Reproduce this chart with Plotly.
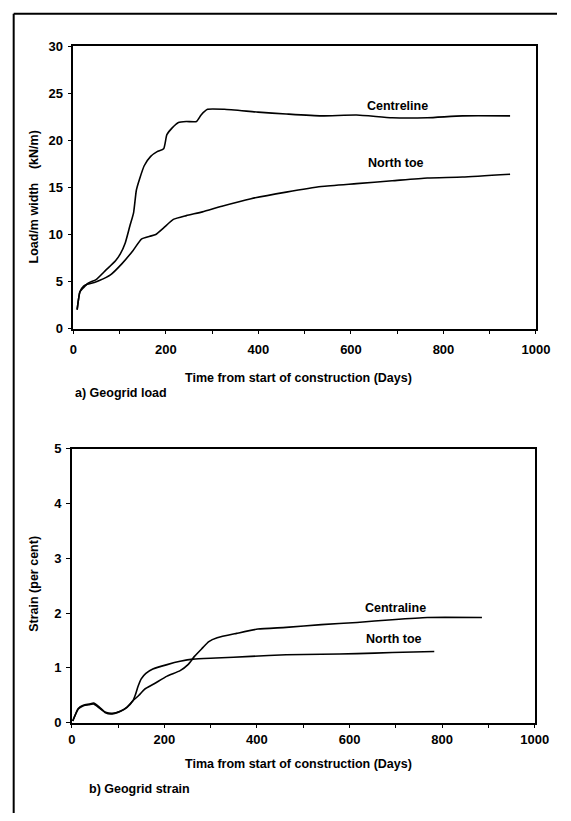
import plotly.graph_objects as go

# ---- data: a) Geogrid load (kN/m) ----
load_centre_days = [8, 14, 21, 31, 49, 70, 91, 101, 112, 122, 130, 136, 143, 153, 167, 181, 195, 202,
                    213, 227, 244, 266, 276, 290, 326, 399, 460, 536, 612, 689, 765, 841, 944]
load_centre_vals = [2.0, 3.9, 4.3, 4.8, 5.2, 6.2, 7.2, 7.9, 9.1, 10.9, 12.3, 14.7, 15.9, 17.3, 18.3, 18.8,
                    19.1, 20.6, 21.3, 21.9, 22.0, 22.0, 22.7, 23.3, 23.3, 23.0, 22.8, 22.6, 22.7, 22.4,
                    22.4, 22.6, 22.6]
load_north_days = [8, 14, 22, 30, 45, 56, 80, 105, 129, 147, 165, 178, 195, 216, 244, 279, 321, 384,
                   460, 536, 612, 689, 765, 841, 944]
load_north_vals = [2.0, 3.9, 4.5, 4.7, 4.9, 5.1, 5.7, 6.9, 8.3, 9.5, 9.8, 10.0, 10.7, 11.6, 12.0, 12.4,
                   13.0, 13.8, 14.5, 15.1, 15.4, 15.7, 16.0, 16.1, 16.4]

# ---- data: b) Geogrid strain (per cent) ----
strain_centre_days = [2, 14, 25, 38, 47, 59, 73, 87, 105, 119, 132, 145, 157, 178, 206, 234, 251, 265,
                      282, 296, 314, 356, 402, 463, 539, 616, 692, 768, 886]
strain_centre_vals = [0.03, 0.25, 0.31, 0.33, 0.34, 0.27, 0.19, 0.17, 0.21, 0.28, 0.40, 0.50, 0.61, 0.71,
                      0.85, 0.95, 1.06, 1.21, 1.36, 1.48, 1.55, 1.63, 1.71, 1.74, 1.79, 1.83, 1.88, 1.92,
                      1.92]
strain_north_days = [2, 14, 25, 38, 47, 59, 73, 87, 105, 119, 132, 137, 143, 150, 160, 175, 206, 234, 262,
                     311, 387, 463, 539, 616, 692, 783]
strain_north_vals = [0.03, 0.26, 0.32, 0.34, 0.36, 0.29, 0.18, 0.16, 0.21, 0.28, 0.40, 0.50, 0.66, 0.80,
                     0.90, 0.98, 1.06, 1.12, 1.16, 1.18, 1.21, 1.24, 1.25, 1.26, 1.28, 1.30]

# ---- tick labels ----
x_tickvals = [0, 100, 200, 300, 400, 500, 600, 700, 800, 900, 1000]
x_ticktext = ["0", "", "200", "", "400", "", "600", "", "800", "", "1000"]
load_tickvals = [0, 5, 10, 15, 20, 25, 30]
strain_tickvals = [0, 1, 2, 3, 4, 5]

W, H = 571, 821
FONT = "Liberation Sans, Arial, Helvetica, sans-serif"

def px_x(p):
    return p / W

def px_y(p):
    return 1 - p / H

fig = go.Figure()
line_style = dict(color="black", width=1.6, shape="spline", smoothing=0.5)
fig.add_trace(go.Scatter(x=load_centre_days, y=load_centre_vals, mode="lines", line=line_style,
                         xaxis="x", yaxis="y", showlegend=False))
fig.add_trace(go.Scatter(x=load_north_days, y=load_north_vals, mode="lines", line=line_style,
                         xaxis="x", yaxis="y", showlegend=False))
fig.add_trace(go.Scatter(x=strain_centre_days, y=strain_centre_vals, mode="lines", line=line_style,
                         xaxis="x2", yaxis="y2", showlegend=False))
fig.add_trace(go.Scatter(x=strain_north_days, y=strain_north_vals, mode="lines", line=line_style,
                         xaxis="x2", yaxis="y2", showlegend=False))

tickfont = dict(family=FONT, size=13, color="black", weight="bold")
axis_common = dict(showline=True, mirror=True, linecolor="black", linewidth=1.6, showgrid=False,
                   zeroline=False, ticks="outside", ticklen=4, tickwidth=1.3, tickcolor="black",
                   tickfont=tickfont)

fig.update_layout(
    width=W, height=H,
    margin=dict(l=0, r=0, t=0, b=0),
    paper_bgcolor="white", plot_bgcolor="white",
    font=dict(family=FONT, size=12, color="black"),
    xaxis=dict(domain=[px_x(71.7), px_x(549.3)], range=[0, 1000], anchor="y",
               tickvals=x_tickvals, ticktext=x_ticktext, ticklabelstandoff=4, **axis_common),
    yaxis=dict(domain=[px_y(327.5), px_y(40)], range=[0, 30], anchor="x",
               tickvals=load_tickvals, ticklabelstandoff=2, **axis_common),
    xaxis2=dict(domain=[px_x(70), px_x(548)], range=[0, 1000], anchor="y2",
                tickvals=x_tickvals, ticktext=x_ticktext, ticklabelstandoff=0, **axis_common),
    yaxis2=dict(domain=[px_y(729), px_y(450)], range=[0, 5], anchor="x2",
                tickvals=strain_tickvals, ticklabelstandoff=2, **axis_common),
)

bold = dict(family=FONT, size=12.5, color="black", weight="bold")
annotations = [
    dict(text="Centreline", x=701, y=23.7, xref="x", yref="y", showarrow=False, font=bold),
    dict(text="North toe", x=698, y=17.55, xref="x", yref="y", showarrow=False, font=bold),
    dict(text="Centraline", x=699, y=2.09, xref="x2", yref="y2", showarrow=False, font=bold),
    dict(text="North toe", x=697, y=1.52, xref="x2", yref="y2", showarrow=False, font=bold),
    dict(text="Time from start of construction (Days)", x=px_x(304), y=px_y(378.3), xref="paper",
         yref="paper", showarrow=False, font=bold, xanchor="center", yanchor="middle"),
    dict(text="a) Geogrid load", x=px_x(71), y=px_y(392.7), xref="paper", yref="paper",
         showarrow=False, font=bold, xanchor="left", yanchor="middle"),
    dict(text="Tima from start of construction (Days)", x=px_x(304), y=px_y(770.7), xref="paper",
         yref="paper", showarrow=False, font=bold, xanchor="center", yanchor="middle"),
    dict(text="b) Geogrid strain", x=px_x(86), y=px_y(796.7), xref="paper", yref="paper",
         showarrow=False, font=bold, xanchor="left", yanchor="middle"),
    dict(text="Load/m width\u00a0\u00a0\u00a0\u00a0(kN/m)", x=px_x(31), y=px_y(194), xref="paper",
         yref="paper", showarrow=False, font=bold, textangle=-90, xanchor="center", yanchor="middle"),
    dict(text="Strain (per cent)", x=px_x(31), y=px_y(587.5), xref="paper", yref="paper",
         showarrow=False, font=bold, textangle=-90, xanchor="center", yanchor="middle"),
]
fig.update_layout(annotations=annotations)

# page frame (left and top border of the scanned figure)
fig.add_shape(type="line", xref="paper", yref="paper", x0=px_x(10), x1=px_x(10), y0=0, y1=px_y(7),
              line=dict(color="black", width=2))
fig.add_shape(type="line", xref="paper", yref="paper", x0=px_x(10), x1=1, y0=px_y(7), y1=px_y(7),
              line=dict(color="black", width=2))

fig.write_html("out.html", config={"displayModeBar": False},
               post_script="document.body.style.margin='0';document.body.style.overflow='hidden';")
